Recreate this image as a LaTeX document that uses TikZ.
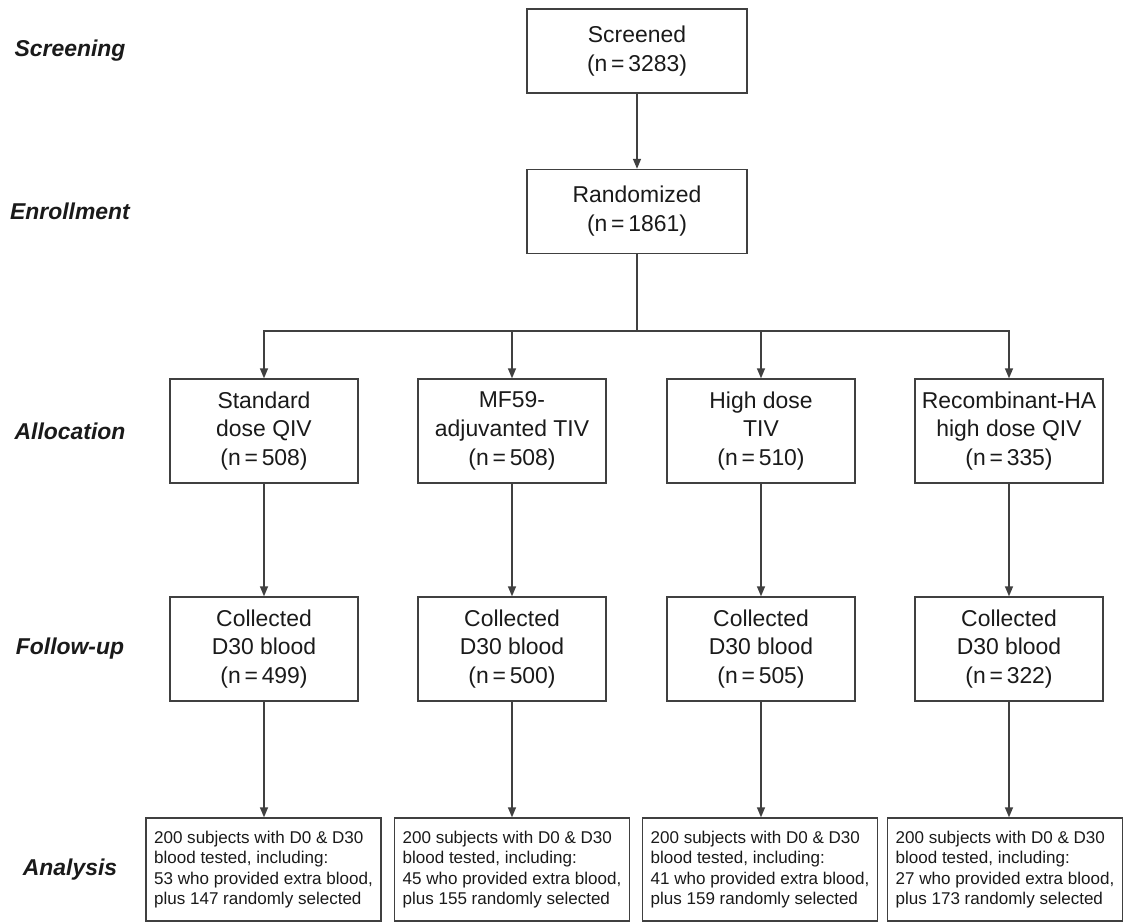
\documentclass[tikz,border=0pt]{standalone}
\usepackage{fontspec}
\setmainfont{Liberation Sans}
\usetikzlibrary{arrows.meta}
\definecolor{ln}{HTML}{404040}
\definecolor{tx}{HTML}{1A1A1A}
\begin{document}
\begin{tikzpicture}[x=1bp,y=-1bp,
  box/.style={draw=ln, line width=1.4bp, fill=white, inner sep=0pt, align=center,
    minimum width=188bp, minimum height=104bp, text=tx, font=\fontsize{23}{29}\selectfont},
  topbox/.style={box, minimum width=220bp, minimum height=84bp},
  anbox/.style={draw=ln, line width=1.4bp, fill=white, inner sep=0pt, align=left,
    minimum width=235bp, minimum height=103bp, text=tx, font=\fontsize{17.1}{20.5}\selectfont},
  phase/.style={text=tx, font=\fontsize{23}{28}\selectfont\bfseries\itshape, inner sep=0pt},
  conn/.style={draw=ln, line width=1.4bp},
  arr/.style={conn, -{Triangle[length=10bp,width=8bp]}},
  arrs/.style={conn, {Triangle[length=10bp,width=8bp]}-{Triangle[length=10bp,width=8bp]}}
]
\useasboundingbox (0,0) rectangle (1132,923);
\fill[white] (0,0) rectangle (1132,923);

% phase labels
\node[phase] (lscr) at (70,51) {Screening};
\node[phase] (lenr) at (70,211.5) {Enrollment};
\node[phase] (lall) at (70,431) {Allocation};
\node[phase] (lfol) at (70,649) {Follow-up};
\node[phase] (lana) at (70,869.5) {Analysis};

% top boxes
\node[topbox] (scr) at (637,51) {Screened\\(n\,=\,3283)};
\node[topbox] (rnd) at (637,211.5) {Randomized\\(n\,=\,1861)};
\coordinate (bar) at (637,331);

% allocation
\node[box] (al1) at (264,431) {Standard\\dose QIV\\(n\,=\,508)};
\node[box] (al2) at (512,431) {MF59-\\adjuvanted TIV\\(n\,=\,508)};
\node[box] (al3) at (761,431) {High dose\\TIV\\(n\,=\,510)};
\node[box] (al4) at (1009,431) {Recombinant-HA\\high dose QIV\\(n\,=\,335)};

% follow-up
\node[box] (fu1) at (264,649) {Collected\\D30 blood\\(n\,=\,499)};
\node[box] (fu2) at (512,649) {Collected\\D30 blood\\(n\,=\,500)};
\node[box] (fu3) at (761,649) {Collected\\D30 blood\\(n\,=\,505)};
\node[box] (fu4) at (1009,649) {Collected\\D30 blood\\(n\,=\,322)};

% analysis
\node[anbox] (an1) at (263.5,869.5) {200 subjects with D0 \& D30\\blood tested, including:\\53 who provided extra blood,\\plus 147 randomly selected};
\node[anbox] (an2) at (512,869.5) {200 subjects with D0 \& D30\\blood tested, including:\\45 who provided extra blood,\\plus 155 randomly selected};
\node[anbox] (an3) at (760,869.5) {200 subjects with D0 \& D30\\blood tested, including:\\41 who provided extra blood,\\plus 159 randomly selected};
\node[anbox] (an4) at (1005,869.5) {200 subjects with D0 \& D30\\blood tested, including:\\27 who provided extra blood,\\plus 173 randomly selected};

% connectors
\draw[arr] (scr) -- (rnd);
\draw[conn] (rnd.south) -- (bar);
\draw[arrs] (al1.north) -- (al1.north |- bar) -- (al4.north |- bar) -- (al4.north);
\draw[arr] (al2.north |- bar) -- (al2.north);
\draw[arr] (al3.north |- bar) -- (al3.north);

\foreach \i in {1,2,3,4}{
  \draw[arr] (al\i) -- (fu\i);
  \draw[arr] (fu\i.south) -- (fu\i.south |- an\i.north);
}
\end{tikzpicture}
\end{document}
